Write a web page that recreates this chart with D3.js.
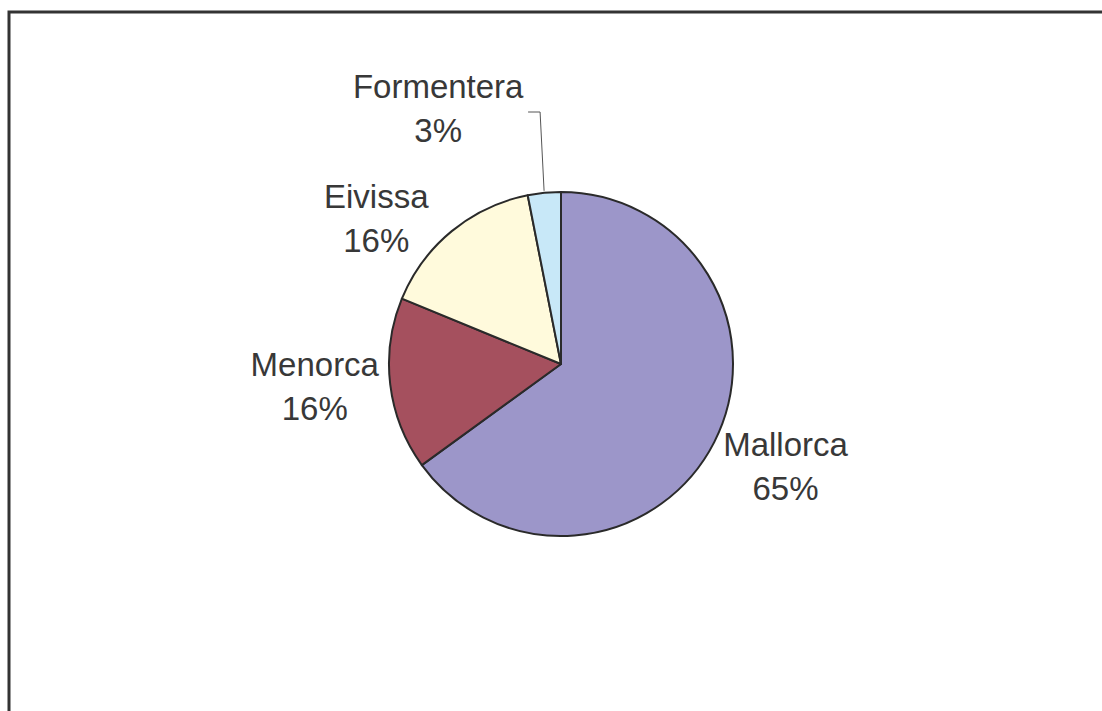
<!DOCTYPE html>
<html>
<head>
    <meta charset="utf-8">
    <title>Illes Balears</title>
    <script src="https://cdn.jsdelivr.net/npm/d3@7"></script>
    <style>
        body { margin: 0; background: #fff; }
        text { font-family: "Liberation Sans", Arial, Helvetica, sans-serif; fill: #383838; }
    </style>
</head>
<body>
<script>
    var islands = ["Mallorca", "Menorca", "Eivissa", "Formentera"],
        shares = [65.0, 16.2, 15.7, 3.1],
        pctLabels = ["65%", "16%", "16%", "3%"],
        colors = ["#9c96c9", "#a5505e", "#fffadc", "#c8e8f8"];

    var w = 1102, h = 711,
        cx = 561, cy = 364, r = 172;

    var svg = d3.select("body").append("svg")
        .attr("width", w)
        .attr("height", h);

    // chart frame, runs past the right and bottom of the window
    svg.append("rect")
        .attr("x", 9).attr("y", 12)
        .attr("width", 1200).attr("height", 800)
        .attr("fill", "none")
        .attr("stroke", "#333")
        .attr("stroke-width", 3);

    var data = islands.map(function (d, i) {
        return { name: d, value: shares[i], pct: pctLabels[i], color: colors[i] };
    });

    var pie = d3.pie().sort(null).value(function (d) { return d.value; });
    var arc = d3.arc().innerRadius(0).outerRadius(r);
    var arcs = pie(data);

    var g = svg.append("g").attr("transform", "translate(" + cx + "," + cy + ")");

    g.selectAll("path")
        .data(arcs)
        .enter().append("path")
        .attr("d", arc)
        .attr("fill", function (d) { return d.data.color; })
        .attr("stroke", "#2a2a2a")
        .attr("stroke-width", 2)
        .attr("stroke-linejoin", "round");

    // labels sit on the slice's middle ray, nudged where excel moved them
    var labelR = [252, 248, 228, 245];
    var labelShift = [[0, 0], [0, 4], [-40, 42], [-99, 0]];

    var labels = g.selectAll("g.lbl")
        .data(arcs)
        .enter().append("g")
        .attr("class", "lbl")
        .attr("transform", function (d, i) {
            var a = (d.startAngle + d.endAngle) / 2;
            var x = Math.sin(a) * labelR[i] + labelShift[i][0];
            var y = -Math.cos(a) * labelR[i] + labelShift[i][1];
            return "translate(" + x + "," + y + ")";
        });

    labels.append("text")
        .attr("text-anchor", "middle")
        .attr("font-size", 33)
        .attr("y", -22)
        .text(function (d) { return d.data.name; });

    labels.append("text")
        .attr("text-anchor", "middle")
        .attr("font-size", 33)
        .attr("y", 22)
        .text(function (d) { return d.data.pct; });

    // leader line for the small Formentera slice
    var fa = arcs[3];
    var mid = (fa.startAngle + fa.endAngle) / 2;
    var ex = Math.sin(mid) * (r + 2), ey = -Math.cos(mid) * (r + 2);
    var bx = ex - 4, by = 112 - cy;
    g.append("polyline")
        .attr("points", [[ex, ey], [bx, by], [bx - 12, by]].map(function (p) { return p.join(","); }).join(" "))
        .attr("fill", "none")
        .attr("stroke", "#555")
        .attr("stroke-width", 1);
</script>
</body>
</html>
